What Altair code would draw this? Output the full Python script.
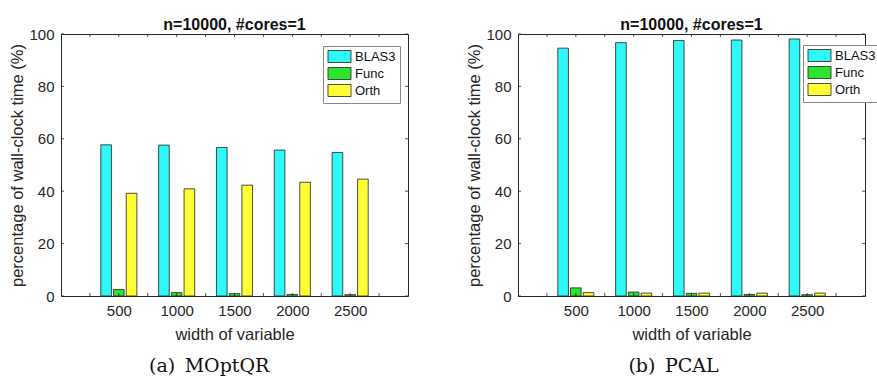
import altair as alt
import pandas as pd

widths = [500, 1000, 1500, 2000, 2500]
series = ["BLAS3", "Func", "Orth"]

moptqr_blas3 = [57.7, 57.6, 56.7, 55.7, 54.8]
moptqr_func = [2.5, 1.3, 0.9, 0.6, 0.5]
moptqr_orth = [39.2, 40.9, 42.3, 43.4, 44.6]

pcal_blas3 = [94.6, 96.7, 97.5, 97.7, 98.1]
pcal_func = [3.1, 1.5, 1.0, 0.6, 0.5]
pcal_orth = [1.3, 1.1, 1.1, 1.1, 1.1]

colors = ["#2ef8f8", "#2de52d", "#ffff33"]
x_tick_marks = [250, 500, 750, 1000, 1250, 1500, 1750, 2000, 2250, 2500, 2750]
x_labels = [500, 1000, 1500, 2000, 2500]
y_ticks = [0, 20, 40, 60, 80, 100]

panel_title = "n=10000, #cores=1"
x_title = "width of variable"
y_title = "percentage of wall-clock time (%)"

W, H = 347, 262
AX = "#262626"
SANS = "Liberation Sans"


def make_df(blas3, func, orth):
    rows = []
    for i, w in enumerate(widths):
        for k, (s, vals) in enumerate(zip(series, [blas3, func, orth])):
            rows.append({"width": w, "series": s, "k": k, "value": vals[i]})
    return pd.DataFrame(rows)


def panel(df, legend_x, legend_y):
    bars = alt.Chart(df).transform_calculate(
        x0="datum.width + (datum.k - 1) * 110 - 46",
        x1="datum.width + (datum.k - 1) * 110 + 46",
    ).mark_rect(stroke="#222222", strokeWidth=0.8).encode(
        x=alt.X("x0:Q",
                scale=alt.Scale(domain=[0, 3000], nice=False, zero=False),
                axis=alt.Axis(values=x_labels, title=x_title, ticks=False,
                              format="d",
                              domain=False, grid=False, labelPadding=7,
                              titlePadding=8)),
        x2="x1:Q",
        y=alt.Y("value:Q",
                scale=alt.Scale(domain=[0, 100], nice=False),
                axis=alt.Axis(values=y_ticks, title=y_title, ticks=False,
                              format="d",
                              domain=False, grid=False, labelPadding=7,
                              titlePadding=3)),
        y2=alt.datum(0),
        color=alt.Color("series:N",
                        scale=alt.Scale(domain=series, range=colors),
                        legend=alt.Legend(
                            orient="none", legendX=legend_x, legendY=legend_y,
                            title=None,
                            symbolType="M-1.92,-1H1.92V1H-1.92Z",
                            symbolSize=144, symbolStrokeColor="#222222",
                            symbolStrokeWidth=0.8, symbolOpacity=1,
                            symbolOffset=6,
                            labelFontSize=13, labelFont=SANS, labelColor="#111111",
                            labelOffset=9, rowPadding=0, padding=4,
                            strokeColor="#888888", fillColor="white")),
    )
    xt = pd.DataFrame({"t": x_tick_marks})
    yt = pd.DataFrame({"t": y_ticks})
    r_bottom = alt.Chart(xt).mark_rule(color=AX, strokeWidth=0.8).encode(
        x=alt.X("t:Q", axis=None), y=alt.value(H), y2=alt.value(H - 3))
    r_top = alt.Chart(xt).mark_rule(color=AX, strokeWidth=0.8).encode(
        x=alt.X("t:Q", axis=None), y=alt.value(0), y2=alt.value(3))
    r_left = alt.Chart(yt).mark_rule(color=AX, strokeWidth=0.8).encode(
        y=alt.Y("t:Q", axis=None), x=alt.value(0), x2=alt.value(3))
    r_right = alt.Chart(yt).mark_rule(color=AX, strokeWidth=0.8).encode(
        y=alt.Y("t:Q", axis=None), x=alt.value(W), x2=alt.value(W - 3))
    return alt.layer(bars, r_bottom, r_top, r_left, r_right).resolve_axis(
        x="independent", y="independent").properties(
        width=W, height=H,
        title=alt.TitleParams(panel_title, fontSize=16, fontWeight="bold",
                              font=SANS, color="#111111", offset=-6,
                              anchor="middle"))


df_a = make_df(moptqr_blas3, moptqr_func, moptqr_orth)
df_b = make_df(pcal_blas3, pcal_func, pcal_orth)

left = alt.vconcat(panel(df_a, 262, 12)).properties(
    title=alt.TitleParams("(a)\u2002MOptQR", orient="bottom", font="DejaVu Serif",
                          fontSize=19, fontWeight="normal", color="#111111",
                          offset=14, anchor="middle"))
right = alt.vconcat(panel(df_b, 285, 11)).properties(
    title=alt.TitleParams("(b)\u2002PCAL", orient="bottom", font="DejaVu Serif",
                          fontSize=19, fontWeight="normal", color="#111111",
                          offset=14, anchor="middle"))

chart = alt.hconcat(left, right, spacing=57).resolve_scale(
    color="independent").resolve_legend(color="independent").properties(
    autosize=alt.AutoSizeParams(type="none"),
).configure(
    padding={"left": 61, "top": 34, "right": 816, "bottom": 343},
    font=SANS,
).configure_view(stroke=AX, strokeWidth=1).configure_axis(
    labelFont=SANS, titleFont=SANS, labelFontSize=15, titleFontSize=16.5,
    labelColor=AX, titleColor=AX, titleFontWeight="normal")

chart.save("out.html", embed_options={"renderer": "svg", "actions": False})
